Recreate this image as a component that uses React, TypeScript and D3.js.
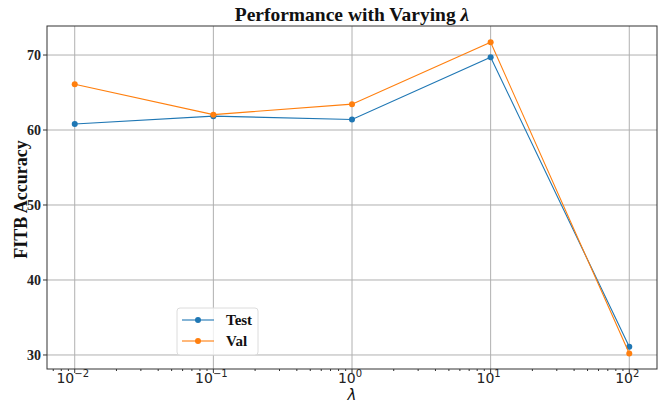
import * as d3 from 'd3'
import React from 'react'

// values
const lambdas = [0.01, 0.1, 1, 10, 100]
const testAcc = [60.8, 61.85, 61.4, 69.7, 31.1]
const valAcc = [66.1, 62.05, 63.45, 71.7, 30.2]
const yTicks = [30, 40, 50, 60, 70]
const tickExps = [-2, -1, 0, 1, 2]

const series = [
    { name: 'Test', values: testAcc, color: '#1f77b4' },
    { name: 'Val', values: valAcc, color: '#ff7f0e' },
]

export default function App() {
    const W = 658, H = 404
    const left = 47, right = 657, top = 26, bottom = 369

    const x = d3.scaleLog().domain([Math.pow(10, -2.2), Math.pow(10, 2.2)]).range([left, right])
    const y = d3.scaleLinear().domain([28.13, 73.87]).range([bottom, top])

    const line = d3.line<number>()
        .x((d, i) => x(lambdas[i]))
        .y(d => y(d))

    // minor log ticks between decades
    const minor: number[] = []
    for (let e = -3; e <= 2; e++) {
        for (let k = 2; k <= 9; k++) {
            const v = k * Math.pow(10, e)
            if (v > x.domain()[0] && v < x.domain()[1]) minor.push(v)
        }
    }

    const serif = '"Liberation Serif", "Times New Roman", serif'
    const sans = '"DejaVu Sans", sans-serif'

    return (
        <svg width={W} height={H} style={{ position: 'absolute', left: 0, top: 0 }}>
            <rect width={W} height={H} fill="#fff" />
            {/* grid */}
            {lambdas.map(v => (
                <line key={'gx' + v} x1={x(v)} x2={x(v)} y1={top} y2={bottom} stroke="#b0b0b0" strokeWidth={1} />
            ))}
            {yTicks.map(v => (
                <line key={'gy' + v} x1={left} x2={right} y1={y(v)} y2={y(v)} stroke="#b0b0b0" strokeWidth={1} />
            ))}
            {/* series */}
            {series.map(s => (
                <g key={s.name}>
                    <path d={line(s.values) || ''} fill="none" stroke={s.color} strokeWidth={1.1} />
                    {s.values.map((v, i) => (
                        <circle key={i} cx={x(lambdas[i])} cy={y(v)} r={3} fill={s.color} />
                    ))}
                </g>
            ))}
            {/* spines */}
            <rect x={left} y={top} width={right - left} height={bottom - top} fill="none" stroke="#333" strokeWidth={1} />
            {/* x ticks */}
            {lambdas.map((v, i) => (
                <g key={'tx' + v}>
                    <line x1={x(v)} x2={x(v)} y1={bottom} y2={bottom + 4} stroke="#333" />
                    <text x={x(v) - 2} y={383} fontFamily={sans} fontSize={14} textAnchor="middle" fill="#222">
                        10<tspan dy={-6} fontSize={10}>{tickExps[i] < 0 ? '\u2212' + Math.abs(tickExps[i]) : tickExps[i]}</tspan>
                    </text>
                </g>
            ))}
            {minor.map(v => (
                <line key={'mx' + v} x1={x(v)} x2={x(v)} y1={bottom} y2={bottom + 2} stroke="#333" />
            ))}
            {/* y ticks */}
            {yTicks.map(v => (
                <g key={'ty' + v}>
                    <line x1={left - 4} x2={left} y1={y(v)} y2={y(v)} stroke="#333" />
                    <text x={left - 6} y={y(v) + 5} fontFamily={serif} fontWeight="bold" fontSize={14} textAnchor="end" fill="#222">{v}</text>
                </g>
            ))}
            {/* title and axis labels */}
            <text x={(left + right) / 2} y={21} fontFamily={serif} fontWeight="bold" fontSize={19.5} textAnchor="middle" fill="#111">
                Performance with Varying <tspan fontStyle="italic">λ</tspan>
            </text>
            <text x={(left + right) / 2} y={400} fontFamily={sans} fontStyle="italic" fontSize={15} textAnchor="middle" fill="#111">λ</text>
            <text transform={`translate(27,${(top + bottom) / 2 + 2}) rotate(-90)`} fontFamily={serif} fontWeight="bold" fontSize={18} textAnchor="middle" fill="#111">FITB Accuracy</text>
            {/* legend */}
            <g>
                <rect x={177} y={308} width={81} height={47} rx={3} fill="#fff" fillOpacity={0.8} stroke="#dcdcdc" />
                {series.map((s, i) => (
                    <g key={'lg' + s.name} transform={`translate(0,${320 + i * 21})`}>
                        <line x1={182} x2={214} y1={0} y2={0} stroke={s.color} strokeWidth={1.1} />
                        <circle cx={198} cy={0} r={3} fill={s.color} />
                        <text x={226} y={5} fontFamily={serif} fontWeight="bold" fontSize={15} fill="#111">{s.name}</text>
                    </g>
                ))}
            </g>
        </svg>
    )
}
